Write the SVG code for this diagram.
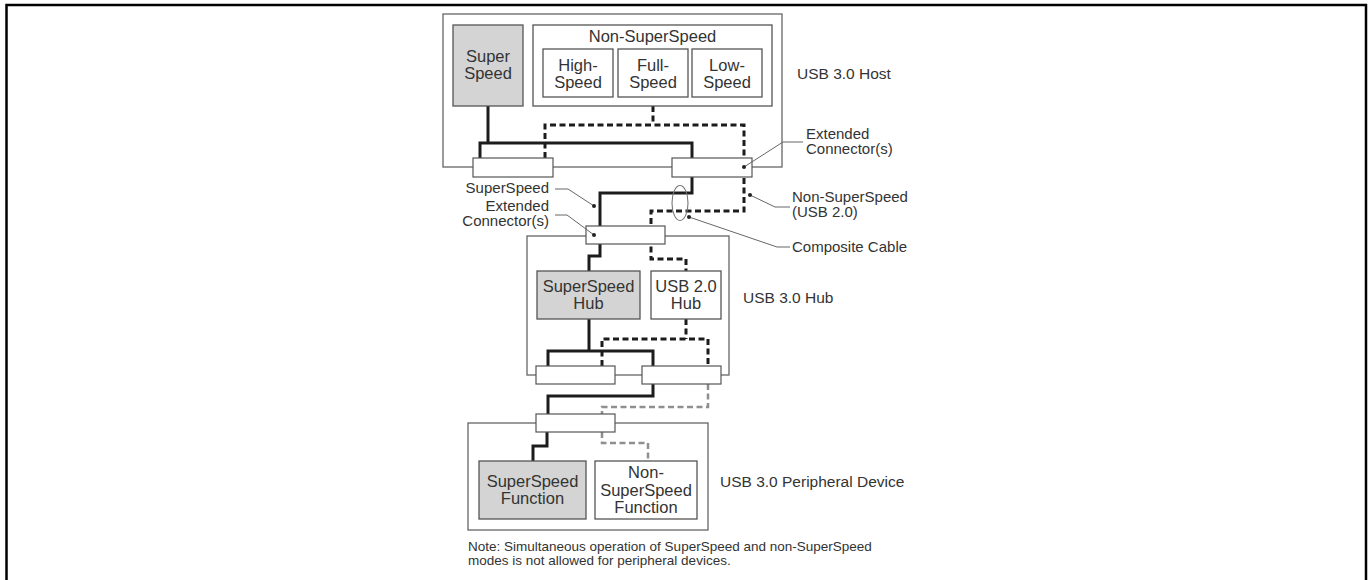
<svg xmlns="http://www.w3.org/2000/svg" width="1370" height="580" viewBox="0 0 1370 580">
<style>
text{font-family:"Liberation Sans",Arial,sans-serif;fill:#333;}
.lbl{font-size:15.5px;}
.ann{font-size:15px;}
.box{font-size:16.5px;text-anchor:middle;}
.note{font-size:13.5px;}
.cont{fill:#fff;stroke:#666;stroke-width:1.3;}
.wbox{fill:#fff;stroke:#555;stroke-width:1.3;}
.gbox{fill:#d4d4d4;stroke:#555;stroke-width:1.3;}
.conn{fill:#fff;stroke:#555;stroke-width:1.2;}
.ss{fill:none;stroke:#1c1c1c;stroke-width:3;stroke-linejoin:miter;}
.ns{fill:none;stroke:#1c1c1c;stroke-width:3;stroke-dasharray:6 3.5;}
.nsg{fill:none;stroke:#8f8f8f;stroke-width:2.5;stroke-dasharray:6 3.5;}
.lead{fill:none;stroke:#666;stroke-width:1;}
.dot{fill:#222;}
</style>
<rect x="6.5" y="5" width="1359.5" height="640" fill="none" stroke="#000" stroke-width="2.5"/>

<!-- containers -->
<g id="host">
  <rect class="cont" x="443" y="14" width="339" height="153"/>
  <text class="lbl" x="797" y="79">USB 3.0 Host</text>
</g>
<g id="hub">
  <rect class="cont" x="527" y="236" width="202" height="139"/>
  <text class="lbl" x="743" y="303">USB 3.0 Hub</text>
</g>
<g id="peripheral">
  <rect class="cont" x="468" y="423" width="240" height="107"/>
  <text class="lbl" x="720" y="487">USB 3.0 Peripheral Device</text>
</g>

<!-- connectors (wires) -->
<g id="connectors">
  <path class="ss" d="M488,106 V143 M480,158 V143 H692 V193 H600 V256 H589 V271"/>
  <path class="ns" d="M653,106 V125 M545,158 V125 H744 V211 H651 V259 H686 V271"/>
  <path class="ss" d="M589,319 V351 M548,366 V351 H653 V396 H548 V414 M547,432 V446 H533 V461"/>
  <path class="ns" d="M686,319 V339 M602,366 V339 H708 V366"/>
  <path class="nsg" d="M708,384 V407 H602 V414 M602,432 V443 H648 V461"/>
  <ellipse cx="680" cy="203" rx="8" ry="17.5" fill="none" stroke="#777" stroke-width="1.1"/>
</g>

<!-- extended connectors -->
<g id="host-conn-left"><rect class="conn" x="473" y="158" width="80" height="19"/></g>
<g id="host-conn-right"><rect class="conn" x="672" y="158" width="80" height="19"/></g>
<g id="hub-conn-up"><rect class="conn" x="586" y="226" width="79" height="18"/></g>
<g id="hub-conn-down-left"><rect class="conn" x="536" y="366" width="79" height="18"/></g>
<g id="hub-conn-down-right"><rect class="conn" x="642" y="366" width="79" height="18"/></g>
<g id="dev-conn"><rect class="conn" x="536" y="414" width="79" height="18"/></g>

<!-- inner boxes -->
<g id="host-superspeed">
  <rect class="gbox" x="453" y="25" width="70" height="81"/>
  <text class="box" x="488" y="62">Super</text>
  <text class="box" x="488" y="79">Speed</text>
</g>
<g id="host-nonsuperspeed">
  <rect class="wbox" x="533" y="25" width="239" height="81"/>
  <text class="box" x="652.5" y="42">Non-SuperSpeed</text>
</g>
<g id="high-speed">
  <rect class="wbox" x="543" y="49" width="70" height="48"/>
  <text class="box" x="578" y="70.5">High-</text>
  <text class="box" x="578" y="87.5">Speed</text>
</g>
<g id="full-speed">
  <rect class="wbox" x="618" y="49" width="70" height="48"/>
  <text class="box" x="653" y="70.5">Full-</text>
  <text class="box" x="653" y="87.5">Speed</text>
</g>
<g id="low-speed">
  <rect class="wbox" x="692" y="49" width="70" height="48"/>
  <text class="box" x="727" y="70.5">Low-</text>
  <text class="box" x="727" y="87.5">Speed</text>
</g>
<g id="superspeed-hub">
  <rect class="gbox" x="537" y="271" width="103" height="48"/>
  <text class="box" x="588.5" y="292">SuperSpeed</text>
  <text class="box" x="588.5" y="309">Hub</text>
</g>
<g id="usb20-hub">
  <rect class="wbox" x="651" y="271" width="70" height="48"/>
  <text class="box" x="686" y="292">USB 2.0</text>
  <text class="box" x="686" y="309">Hub</text>
</g>
<g id="superspeed-function">
  <rect class="gbox" x="479" y="461" width="107" height="58"/>
  <text class="box" x="532.5" y="487">SuperSpeed</text>
  <text class="box" x="532.5" y="504">Function</text>
</g>
<g id="nonsuperspeed-function">
  <rect class="wbox" x="595" y="461" width="102" height="58"/>
  <text class="box" x="646" y="478">Non-</text>
  <text class="box" x="646" y="495.5">SuperSpeed</text>
  <text class="box" x="646" y="513">Function</text>
</g>

<!-- annotations -->
<g id="annotations">
  <text class="ann" x="549" y="193" text-anchor="end">SuperSpeed</text>
  <path class="lead" d="M555,189 H568 L594,206"/>
  <circle class="dot" cx="594" cy="206" r="2"/>
  <text class="ann" x="549" y="211" text-anchor="end">Extended</text>
  <text class="ann" x="549" y="226" text-anchor="end">Connector(s)</text>
  <path class="lead" d="M555,215 H567 L594,235"/>
  <circle class="dot" cx="594" cy="235" r="2"/>
  <text class="ann" x="806" y="139">Extended</text>
  <text class="ann" x="806" y="154">Connector(s)</text>
  <path class="lead" d="M744,167 L783,142 H803"/>
  <circle class="dot" cx="744" cy="167" r="2"/>
  <text class="ann" x="792" y="202">Non-SuperSpeed</text>
  <text class="ann" x="792" y="217">(USB 2.0)</text>
  <path class="lead" d="M750,195 L775,207 H790"/>
  <circle class="dot" cx="750" cy="195" r="2"/>
  <text class="ann" x="792" y="252">Composite Cable</text>
  <path class="lead" d="M689,217 L777,247 H790"/>
  <circle class="dot" cx="689" cy="217" r="2"/>
</g>

<g id="note">
  <text class="note" x="468" y="551">Note: Simultaneous operation of SuperSpeed and non-SuperSpeed</text>
  <text class="note" x="468" y="565">modes is not allowed for peripheral devices.</text>
</g>
</svg>
